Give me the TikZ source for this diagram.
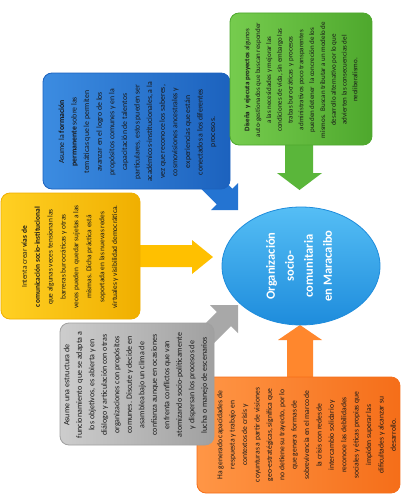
\documentclass[tikz,border=0pt]{standalone}
\usepackage{fontspec}
\setmainfont{Carlito}
\definecolor{grnL}{RGB}{118,204,78}
\definecolor{grnD}{RGB}{78,168,45}
\definecolor{grnA}{RGB}{90,182,58}
\definecolor{bluL}{RGB}{60,140,225}
\definecolor{bluD}{RGB}{28,98,190}
\definecolor{bluA}{RGB}{36,116,210}
\definecolor{yelL}{RGB}{255,208,35}
\definecolor{yelD}{RGB}{240,175,0}
\definecolor{yelA}{RGB}{255,192,0}
\definecolor{gryL}{RGB}{205,205,205}
\definecolor{gryD}{RGB}{160,160,160}
\definecolor{gryA}{RGB}{168,168,168}
\definecolor{orgL}{RGB}{255,150,70}
\definecolor{orgD}{RGB}{245,110,25}
\definecolor{orgA}{RGB}{255,135,45}
\definecolor{ellL}{RGB}{85,190,245}
\definecolor{ellD}{RGB}{30,140,220}
\definecolor{txt}{RGB}{25,25,25}
\begin{document}
\begin{tikzpicture}[x=1pt,y=-1pt,
  box/.style={rounded corners=9pt, inner sep=0pt, draw=#1D, line width=0.8pt,
              left color=#1L, right color=#1D},
  btext/.style={rotate=90, align=center, inner sep=0pt, text=txt},
  blockarrow/.style={fill=#1A, draw=none}]
\useasboundingbox (0,0) rectangle (402,503);
\fill[white] (0,0) rectangle (402,503);

% orange
\fill[blockarrow=org] (287,380) -- (287,340) -- (278,340) -- (300,325) -- (322,340) -- (313,340) -- (313,380) -- cycle;
\node[box=org, minimum width=203pt, minimum height=116pt] (orange) at (298.5,435) {};
\node[btext, font=\fontsize{7.6}{12.4}\selectfont] (orangetxt) at (306.5,435) {Ha generado capacidades de\\respuesta y trabajo en\\contextos de crisis y\\coyunturas a partir de visiones\\geo-estratégicas, significa que\\no detiene su trayecto, por lo\\que genera\ \ formas de\\sobrevivencia en el marco de\\la crisis con redes de\\intercambio solidario y\\reconoce las debilidades\\sociales y éticas propias que\\impiden superar las\\dificultades y alcanzar su\\desarrollo.};

% gray
\fill[blockarrow=gry] (199.3,357.9) -- (231.1,326.1) -- (238,333) -- (238,305) -- (210,305) -- (216.9,311.9) -- (185.1,343.7) -- cycle;
\node[box=gry, minimum width=154pt, minimum height=122pt] (gray) at (137,384) {};
\node[btext, font=\fontsize{8}{12.5}\selectfont] (graytxt) at (136,385) {Asume una estructura de\\funcionamiento\ \ que se adapta a\\los objetivos, es abierta y en\\diálogo y articulación con otras\\organizaciones con propósitos\\comunes. Discute y decide en\\asamblea bajo un clima de\\confianza aunque en ocasiones\\enfrenta conflictos que van\\atomizando socio-políticamente\\y dispersan los procesos de\\lucha o manejo de escenarios};

% yellow
\fill[blockarrow=yel] (135,245) -- (192,245) -- (192,240) -- (213,257) -- (192,274) -- (192,267) -- (135,267) -- cycle;
\node[box=yel, minimum width=139pt, minimum height=126pt] (yellow) at (70.5,256) {};
\node[btext, font=\fontsize{7.4}{12.9}\selectfont] (yellowtxt) at (70,257) {Intenta crear \textbf{vías de}\\\textbf{comunicación socio-institucional}\\que algunas veces tensionan las\\barreras burocráticas y otras\\veces pueden\ \ quedar sujetas a las\\mismas. Dicha práctica está\\soportada en las nuevas redes\\virtuales y visibilidad democrática.};

% blue
\fill[blockarrow=blu] (200.5,156.9) -- (232.3,188.7) -- (238,183) -- (238,210) -- (211,210) -- (216.7,204.3) -- (184.9,172.5) -- cycle;
\node[box=blu, minimum width=187pt, minimum height=116pt] (blue) at (136.5,131) {};
\node[btext, font=\fontsize{7.8}{12.6}\selectfont] (bluetxt) at (137.5,132) {Asume la \textbf{formación}\\\textbf{permanente} sobre las\\temáticas que le permiten\\avanzar en el logro de los\\propósitos comunes y en la\\capacitación de talentos\\particulares, estos pueden ser\\académicos-institucionales, a la\\vez que reconoce los saberes,\\cosmovisiones ancestrales y\\experiencias que están\\conectados a los diferentes\\procesos.};

% green
\fill[blockarrow=grn] (285,140) -- (285,173) -- (277,173) -- (299.5,190) -- (322,173) -- (313,173) -- (313,140) -- cycle;
\node[box=grn, minimum width=142pt, minimum height=132pt] (green) at (301,79) {};
\node[btext, font=\fontsize{7}{10.8}\selectfont] (greentxt) at (301,80) {\textbf{Diseña\ \ y ejecuta proyectos} algunos\\auto-gestionados que buscan responder\\a las necesidades y mejorar las\\condiciones de vida, sin embargo las\\trabas burocráticas\ \ y procesos\\administrativos poco transparentes\\pueden detener\ \ la concreción de los\\mismos.\ \ Buscan tributar a un modelo de\\desarrollo alternativo por lo que\\advierten las consecuencias del\\neoliberalismo.};

% center ellipse
\path[top color=ellL, bottom color=ellD, draw=ellD, line width=0.8pt] (301,266) ellipse [x radius=79pt, y radius=59pt];
\node[inner sep=0pt] (centre) at (301,266) {};
\node[btext, text=white, font=\fontsize{12.5}{19}\selectfont\bfseries] (centretxt) at (299,266) {Organización\\socio-\\comunitaria\\en Maracaibo};
\end{tikzpicture}
\end{document}
